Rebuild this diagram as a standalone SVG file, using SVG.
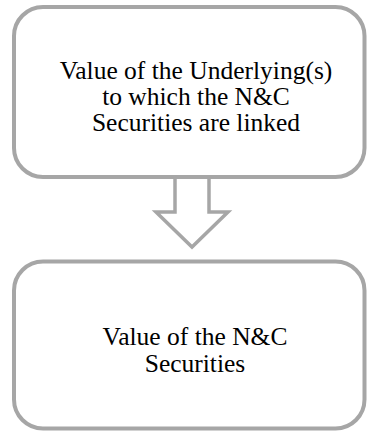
<svg xmlns="http://www.w3.org/2000/svg" width="367" height="432" viewBox="0 0 367 432">
<style>
.box{fill:#ffffff;stroke:#a6a6a6;stroke-width:4}
.arr{fill:#ffffff;stroke:#a6a6a6;stroke-width:3.5;stroke-linejoin:miter}
.t{font-family:"Liberation Serif","Times New Roman",serif;font-size:25.5px;fill:#000000;text-anchor:middle}
</style>
<rect width="367" height="432" fill="#ffffff"/>
<g id="connectors">
<polygon class="arr" points="175,170 209,170 209,212 228,212 192,247 156,212 175,212"/>
</g>
<g id="node1">
<rect class="box" x="14" y="7" width="350.5" height="170" rx="29" ry="29"/>
<text class="t" x="196" y="79">Value of the Underlying(s)</text>
<text class="t" x="196" y="105">to which the N&amp;C</text>
<text class="t" x="196" y="131">Securities are linked</text>
</g>
<g id="node2">
<rect class="box" x="14" y="261.5" width="350.5" height="167" rx="29" ry="29"/>
<text class="t" x="195" y="345">Value of the N&amp;C</text>
<text class="t" x="195" y="372">Securities</text>
</g>
</svg>
